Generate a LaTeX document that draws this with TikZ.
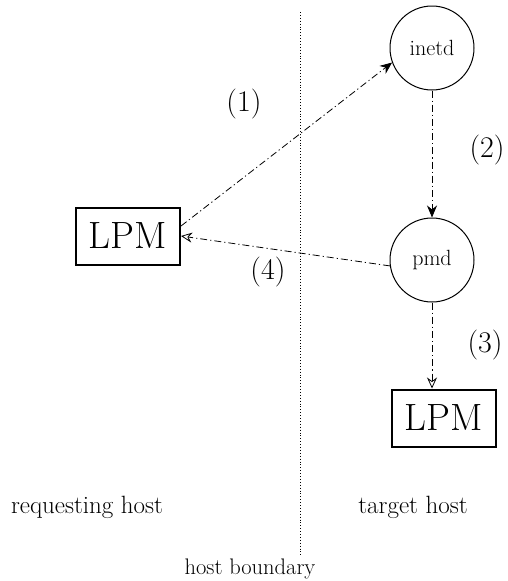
\documentclass[tikz,border=0pt]{standalone}
\usetikzlibrary{arrows.meta}
\begin{document}
\begin{tikzpicture}[x=1pt,y=-1pt,
  proc/.style={circle,draw,line width=1pt,minimum size=84pt,inner sep=0pt,font=\fontsize{22}{24}\selectfont},
  lpmbox/.style={draw,line width=2pt,minimum width=104pt,minimum height=57pt,inner sep=0pt,font=\fontsize{38}{42}\selectfont},
  flow/.style={line width=0.8pt,dash pattern=on 7pt off 3pt on 1.2pt off 3pt},
  lbl/.style={font=\fontsize{30}{33}\selectfont},
  captext/.style={font=\fontsize{25}{28}\selectfont}]
\useasboundingbox (0,0) rectangle (507,581);
\draw[line width=0.9pt,dotted] (300,12) -- (300,555);
\node[proc] (inetd) at (432,48) {inetd};
\node[proc] (pmd) at (432,260) {pmd};
\node[lpmbox] (lpm1) at (128,236) {LPM};
\node[lpmbox] (lpm2) at (444,418) {LPM};
\draw[flow,-{Stealth[length=12pt,width=10pt]}] (lpm1.east |- 0,226) coordinate (s1) -- (inetd.200);
\draw[flow,-{Stealth[length=12pt,width=10pt]}] (inetd) -- (pmd);
\draw[flow,-{Stealth[open,length=11pt,width=10pt]}] (pmd.188) -- (lpm1.east);
\draw[flow,-{Stealth[open,length=11pt,width=10pt]}] (pmd) -- (pmd |- lpm2.north);
\node[lbl] (l1) at (244,104) {(1)};
\node[lbl] (l2) at (487,150) {(2)};
\node[lbl] (l4) at (268,272) {(4)};
\node[lbl] (l3) at (485,345) {(3)};
\node[captext] (rh) at (87,507) {requesting host};
\node[captext] (th) at (413,507) {target host};
\node[captext, font=\fontsize{22.5}{26}\selectfont] (hb) at (250,569) {host boundary};
\end{tikzpicture}
\end{document}
